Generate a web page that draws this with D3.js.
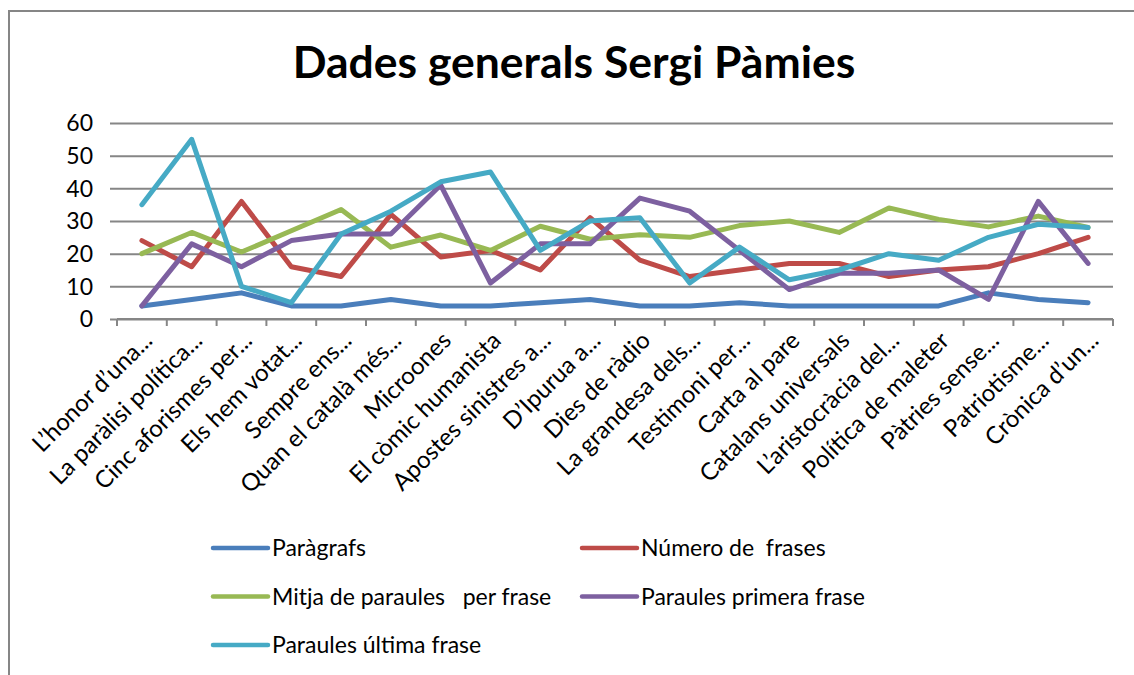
<!DOCTYPE html>
<html>
<head>
<meta charset="utf-8">
<script src="https://cdn.jsdelivr.net/npm/d3@7"></script>
<style>
  body { margin: 0; background: #fff; }
  svg { display: block; font-family: Lato, "Open Sans", sans-serif; }
</style>
</head>
<body>
<svg width="1134" height="675"></svg>
<script>
const titles = [
  'L\u2019honor d\u2019una...', 'La paràlisi política...', 'Cinc aforismes per...', 'Els hem votat...',
  'Sempre ens...', 'Quan el català més...', 'Microones', 'El còmic humanista',
  'Apostes sinistres a...', 'D\u2019Ipurua a...', 'Dies de ràdio', 'La grandesa dels...',
  'Testimoni per...', 'Carta al pare', 'Catalans universals', 'L\u2019aristocràcia del...',
  'Política de maleter', 'Pàtries sense...', 'Patriotisme...', 'Crònica d\u2019un...'
];

const paragrafs = [4, 6, 8, 4, 4, 6, 4, 4, 5, 6, 4, 4, 5, 4, 4, 4, 4, 8, 6, 5];
const numFrases = [24, 16, 36, 16, 13, 32, 19, 21, 15, 31, 18, 13, 15, 17, 17, 13, 15, 16, 20, 25];
const mitjaParaules = [20, 26.5, 20.5, 27, 33.5, 22, 25.7, 21, 28.4, 24.4, 25.8, 25, 28.6, 30, 26.5, 34, 30.5, 28.2, 31.5, 28];
const primeraFrase = [4, 23, 16, 24, 26, 26, 41, 11, 23, 23, 37, 33, 21, 9, 14, 14, 15, 6, 36, 17];
const ultimaFrase = [35, 55, 10, 5, 26, 33, 42, 45, 21, 30, 31, 11, 22, 12, 15, 20, 18, 25, 29, 28];

const yTicks = [0, 10, 20, 30, 40, 50, 60];

const series = [
  { name: 'Paràgrafs', values: paragrafs, color: '#4A7EBB' },
  { name: 'Número de  frases', values: numFrases, color: '#BE4B48' },
  { name: 'Mitja de paraules   per frase', values: mitjaParaules, color: '#98B954' },
  { name: 'Paraules primera frase', values: primeraFrase, color: '#7D60A0' },
  { name: 'Paraules última frase', values: ultimaFrase, color: '#46AAC5' }
];

const svg = d3.select('svg');
const grey = '#868686';

// outer chart frame (only top and left edges are visible)
svg.append('path')
  .attr('d', 'M9,676 L9,11 L1140,11')
  .attr('fill', 'none')
  .attr('stroke', grey)
  .attr('stroke-width', 2);

svg.append('text')
  .attr('x', 574)
  .attr('y', 78)
  .attr('text-anchor', 'middle')
  .attr('font-size', '44.5px')
  .attr('font-weight', 'bold')
  .attr('fill', '#000')
  .text('Dades generals Sergi Pàmies');

const x = d3.scaleBand().domain(titles).range([117, 1113]);
const y = d3.scaleLinear().domain([0, 60]).range([319, 123]);

// horizontal gridlines, extended left as tick marks
svg.append('g')
  .attr('transform', 'translate(1113,0)')
  .call(d3.axisLeft(y).tickValues(yTicks).tickSize(1113 - 110).tickFormat(''))
  .call(g => g.select('.domain').remove())
  .call(g => g.selectAll('line').attr('stroke', grey).attr('stroke-width', 2));

svg.append('g')
  .selectAll('text')
  .data(yTicks)
  .enter().append('text')
  .attr('x', 93)
  .attr('y', d => y(d))
  .attr('dy', '0.36em')
  .attr('text-anchor', 'end')
  .attr('font-size', '23px')
  .attr('fill', '#000')
  .text(d => d);

// x axis: ticks at category boundaries
const xAxis = svg.append('g').attr('transform', 'translate(0,319)');
xAxis.append('line')
  .attr('x1', 117).attr('x2', 1113)
  .attr('stroke', grey).attr('stroke-width', 2);
xAxis.selectAll('line.tk')
  .data(titles.concat(['end']))
  .enter().append('line')
  .attr('class', 'tk')
  .attr('x1', (d, i) => 117 + i * x.step())
  .attr('x2', (d, i) => 117 + i * x.step())
  .attr('y1', 0).attr('y2', 7)
  .attr('stroke', grey).attr('stroke-width', 2);

svg.append('g')
  .selectAll('text')
  .data(titles)
  .enter().append('text')
  .attr('transform', d => `translate(${x(d) + x.bandwidth() / 2 + 6},336) rotate(-45)`)
  .attr('text-anchor', 'end')
  .attr('dy', '0.35em')
  .attr('font-size', '24px')
  .attr('fill', '#000')
  .text(d => d);

const line = d3.line()
  .x((d, i) => x(titles[i]) + x.bandwidth() / 2)
  .y(d => y(d));

svg.append('g')
  .selectAll('path')
  .data(series)
  .enter().append('path')
  .attr('d', d => line(d.values))
  .attr('fill', 'none')
  .attr('stroke', d => d.color)
  .attr('stroke-width', 5)
  .attr('stroke-linejoin', 'round')
  .attr('stroke-linecap', 'round');

// legend
const legend = svg.append('g')
  .selectAll('g')
  .data(series)
  .enter().append('g')
  .attr('transform', (d, i) => `translate(${i % 2 ? 582 : 213},${548 + Math.floor(i / 2) * 48.5})`);

legend.append('line')
  .attr('x1', 0).attr('x2', 55)
  .attr('stroke', d => d.color)
  .attr('stroke-width', 4.5)
  .attr('stroke-linecap', 'round');

legend.append('text')
  .attr('x', 59)
  .attr('dy', '0.36em')
  .attr('font-size', '23px')
  .attr('fill', '#000')
  .attr('xml:space', 'preserve')
  .style('white-space', 'pre')
  .text(d => d.name);
</script>
</body>
</html>
